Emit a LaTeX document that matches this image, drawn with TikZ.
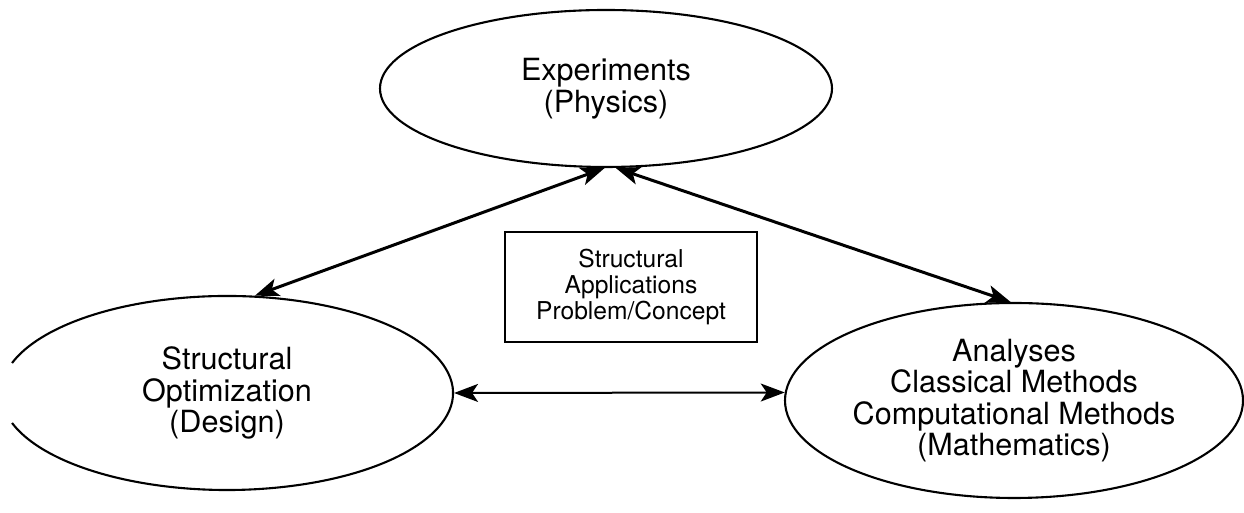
\documentclass[tikz,border=0pt]{standalone}
\usepackage{fontspec}
\setmainfont{TeX Gyre Heros}
\usetikzlibrary{calc,shapes.geometric,arrows.meta}
\def\ellarc[#1](#2)(#3:#4:#5:#6){\draw[#1] ($(#2)+({#5*cos(#3)},{#6*sin(#3)})$) arc (#3:#4:#5 and #6);}

\tikzset{
	bubble/.style={ellipse, inner sep=0pt, align=center, line width=0.42mm, font=\fontsize{17.4}{17.9}\selectfont},
	card/.style={rectangle, draw, inner sep=0pt, align=center, line width=0.45mm, font=\fontsize{14}{14.8}\selectfont},
	link/.style={{Stealth[length=4.8mm, width=3.6mm, inset=1.2mm]}-{Stealth[length=4.8mm, width=3.6mm, inset=1.2mm]}, line width=0.6mm}
}

\begin{document}
\begin{tikzpicture}
			%%%%% START %%%%%
			
			\useasboundingbox (0, 0) rectangle (24.88, 10.26);
			
			\node[bubble, draw, minimum width=9.04cm, minimum height=3.14cm] (experiments) at (12.12, 8.49) {Experiments\\(Physics)};
			
			\node[bubble, minimum width=9.04cm, minimum height=3.88cm] (design) at (4.54, 2.40) {Structural\\Optimization\\(Design)};
			\ellarc[line width=0.42mm](design.center)(198:522:4.52:1.94);
			
			\node[bubble, draw, minimum width=9.16cm, minimum height=3.90cm] (analyses) at (20.28, 2.25) {Analyses\\Classical Methods\\Computational Methods\\(Mathematics)};
			
			\node[card, minimum width=5.04cm, minimum height=2.2cm] (problem) at (12.62, 4.52) {Structural\\Applications\\Problem/Concept};
			
			\draw[link] (design.74) -- (experiments.269);
			\draw[link] (experiments.277) -- (analyses.92);
			\draw[link, line width=0.4mm] (design.east) -- (analyses.178);
			
			%%%%% END %%%%%
		\end{tikzpicture}
\end{document}
